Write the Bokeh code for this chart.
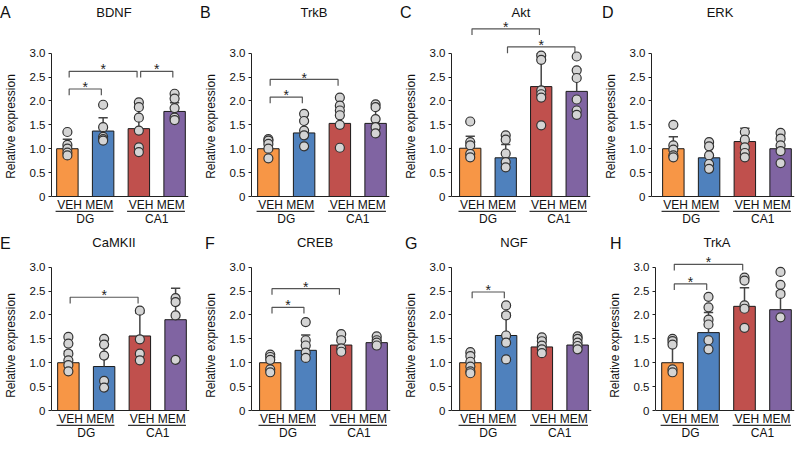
from bokeh.plotting import figure
from bokeh.layouts import column, row
from bokeh.models import FixedTicker, Span, Range1d, Div
from bokeh.embed import file_html
from bokeh.resources import INLINE
from bokeh.core.properties import value

FONT = "Liberation Sans"

# ---------------- data ----------------
conditions = ["VEH", "MEM", "VEH", "MEM"]
regions = ["DG", "CA1"]
bar_colors = ["#F79646", "#4F81BD", "#C0504D", "#8064A2"]
ytick_values = [0, 0.5, 1.0, 1.5, 2.0, 2.5, 3.0]
ytick_labels = ["0", "0.5", "1.0", "1.5", "2.0", "2.5", "3.0"]
panel_letters = ["A", "B", "C", "D", "E", "F", "G", "H"]
gene_names = ["BDNF", "TrkB", "Akt", "ERK", "CaMKII", "CREB", "NGF", "TrkA"]

bdnf_mean = [1.00, 1.37, 1.42, 1.78]
bdnf_sd = [0.20, 0.28, 0.45, 0.18]
bdnf_points = [[1.35, 1.08, 1.00, 0.92, 0.86], [1.92, 1.45, 1.25, 1.20, 1.17],
               [1.97, 1.87, 1.65, 1.38, 1.03, 0.93], [2.15, 2.05, 1.85, 1.65, 1.60]]
bdnf_sig = [(1, 2, 2.25), (1, 3, 2.62), (3, 4, 2.62)]

trkb_mean = [1.00, 1.33, 1.53, 1.53]
trkb_sd = [0.15, 0.28, 0.35, 0.32]
trkb_points = [[1.20, 1.17, 1.10, 1.00, 0.80], [1.73, 1.58, 1.38, 1.28, 1.05],
               [2.07, 1.90, 1.80, 1.70, 1.50, 1.02], [1.93, 1.87, 1.62, 1.45, 1.32]]
trkb_sig = [(1, 2, 2.08), (1, 3, 2.45)]

akt_mean = [1.01, 0.81, 2.30, 2.20]
akt_sd = [0.25, 0.28, 0.69, 0.47]
akt_points = [[1.57, 1.14, 1.07, 0.89, 0.82], [1.28, 1.19, 0.90, 0.72, 0.61],
              [2.95, 2.86, 2.22, 2.14, 2.07, 1.49], [2.93, 2.64, 2.48, 2.03, 1.80, 1.71]]
akt_sig = [(1, 3, 3.51), (2, 4, 3.13)]

erk_mean = [1.00, 0.81, 1.15, 1.00]
erk_sd = [0.25, 0.22, 0.28, 0.26]
erk_points = [[1.50, 1.07, 0.98, 0.86, 0.82], [1.14, 1.05, 0.86, 0.68, 0.58],
              [1.35, 1.19, 1.03, 0.91, 0.82], [1.33, 1.21, 1.07, 0.95, 0.70]]
erk_sig = []

camkii_mean = [1.00, 0.92, 1.56, 1.90]
camkii_sd = [0.24, 0.45, 0.48, 0.66]
camkii_points = [[1.54, 1.40, 1.19, 1.05, 0.95, 0.82], [1.50, 1.38, 1.15, 0.62, 0.48],
                 [2.09, 1.49, 1.19, 1.05], [2.35, 2.27, 1.99, 1.06]]
camkii_sig = [(1, 3, 2.37)]

creb_mean = [1.00, 1.26, 1.37, 1.42]
creb_sd = [0.17, 0.32, 0.15, 0.10]
creb_points = [[1.17, 1.12, 1.06, 0.86, 0.80], [1.85, 1.47, 1.36, 1.21, 1.10],
               [1.60, 1.47, 1.30, 1.23], [1.55, 1.47, 1.42, 1.36]]
creb_sig = [(1, 2, 2.16), (1, 3, 2.55)]

ngf_mean = [1.00, 1.57, 1.33, 1.37]
ngf_sd = [0.20, 0.47, 0.15, 0.15]
ngf_points = [[1.22, 1.14, 1.02, 0.92, 0.82, 0.78], [2.20, 1.99, 1.57, 1.42, 1.07],
              [1.53, 1.45, 1.36, 1.28, 1.20], [1.55, 1.50, 1.42, 1.35, 1.28]]
ngf_sig = [(1, 2, 2.48)]

trka_mean = [1.00, 1.63, 2.18, 2.11]
trka_sd = [0.42, 0.42, 0.39, 0.38]
trka_points = [[1.50, 1.45, 1.38, 0.86, 0.80], [2.38, 2.16, 1.90, 1.80, 1.47, 1.28],
               [2.78, 2.72, 2.20, 2.13, 1.73], [2.90, 2.63, 2.44, 1.95]]
trka_sig = [(1, 2, 2.65), (1, 3, 3.06)]

all_means = [bdnf_mean, trkb_mean, akt_mean, erk_mean, camkii_mean, creb_mean, ngf_mean, trka_mean]
all_sds = [bdnf_sd, trkb_sd, akt_sd, erk_sd, camkii_sd, creb_sd, ngf_sd, trka_sd]
all_points = [bdnf_points, trkb_points, akt_points, erk_points,
              camkii_points, creb_points, ngf_points, trka_points]
all_sig = [bdnf_sig, trkb_sig, akt_sig, erk_sig, camkii_sig, creb_sig, ngf_sig, trka_sig]

# ---------------- layout / style ----------------
PPU = 47.78            # pixels per y unit
XPU = 36.0             # pixels per x unit
FIG_W = 200
left_borders = [50, 50, 49, 50, 50, 49, 50, 55]
first_bar_off = [16, 17, 19, 22, 17, 19, 19, 17]   # px from axis to centre of first bar
title_cx = [114, 114, 121, 120, 114, 115, 114, 117]
letter_x = [0, 0, 0, 2, 0, 5, 5, 10]
x_pos = [1, 2, 3, 4]
group_x = [1.5, 3.5]

# (header height, figure height, zero line from figure top, title centre, letter centre)
ROW_GEOM = [(18, 216, 178, 12.5, 12.5), (16, 190, 160, 9.0, 10.0)]


def make_header(i):
    hh, _, _, t_c, l_c = ROW_GEOM[0 if i < 4 else 1]
    html = (
        f"<div style=\"position:relative;width:{FIG_W}px;height:{hh}px;"
        f"font-family:'{FONT}',Arial,sans-serif;color:#111111;\">"
        f"<div style=\"position:absolute;left:{letter_x[i]}px;top:{l_c - 9}px;width:20px;height:18px;"
        f"font-size:16px;line-height:18px;\">{panel_letters[i]}</div>"
        f"<div style=\"position:absolute;left:{title_cx[i] - 40}px;top:{t_c - 8}px;width:80px;height:16px;"
        f"text-align:center;font-size:13px;line-height:16px;\">{gene_names[i]}</div>"
        f"</div>"
    )
    return Div(text=html, width=FIG_W, height=hh, margin=(0, 0, 0, 0))


def make_panel(i):
    _, fh, zero, _, _ = ROW_GEOM[0 if i < 4 else 1]
    lb = left_borders[i]
    fw = first_bar_off[i] + 122
    x0 = 1 - first_bar_off[i] / XPU
    p = figure(width=FIG_W, height=fh,
               x_range=Range1d(x0, x0 + fw / XPU),
               y_range=Range1d(-(fh - zero) / PPU, zero / PPU),
               x_axis_location=None,
               min_border_left=lb, min_border_right=FIG_W - lb - fw,
               min_border_top=0, min_border_bottom=0,
               output_backend="svg", toolbar_location=None,
               background_fill_color=None, border_fill_color=None,
               outline_line_color=None, margin=(0, 0, 0, 0))
    p.grid.visible = False

    ax = p.yaxis[0]
    ax.bounds = (0, 3)
    ax.ticker = FixedTicker(ticks=ytick_values)
    ax.major_label_overrides = {v: l for v, l in zip(ytick_values, ytick_labels)}
    ax.axis_label = "Relative expression"
    ax.axis_label_text_font = FONT
    ax.axis_label_text_font_style = "normal"
    ax.axis_label_text_font_size = "12px"
    ax.axis_label_text_color = "#111111"
    ax.axis_label_standoff = 9
    ax.major_label_text_font = FONT
    ax.major_label_text_font_size = "11.5px"
    ax.major_label_text_color = "#111111"
    ax.major_label_standoff = 3
    ax.major_tick_in = 0
    ax.major_tick_out = 3
    ax.minor_tick_line_color = None
    ax.axis_line_color = "#222222"
    ax.major_tick_line_color = "#222222"

    p.add_layout(Span(location=0, dimension="width", line_color="#222222", line_width=1))

    means, sds, pts, sig = all_means[i], all_sds[i], all_points[i], all_sig[i]
    p.vbar(x=x_pos, top=means, bottom=0, width=0.6, fill_color=bar_colors,
           line_color="#1a1a1a", line_width=1)
    tops = [m + s for m, s in zip(means, sds)]
    p.segment(x0=x_pos, y0=means, x1=x_pos, y1=tops, line_color="#444444", line_width=1.5)
    p.segment(x0=[x - 0.13 for x in x_pos], y0=tops, x1=[x + 0.13 for x in x_pos], y1=tops,
              line_color="#444444", line_width=1.5)

    px, py = [], []
    for x, vals in zip(x_pos, pts):
        px += [x] * len(vals)
        py += vals
    p.scatter(px, py, size=9, fill_color="#d4d4d4", line_color="#333333", line_width=1.2)

    if sig:
        xs = [[a + 0.05, a + 0.05, b - 0.05, b - 0.05] for a, b, h in sig]
        ys = [[h - 0.13, h, h, h - 0.13] for a, b, h in sig]
        p.multi_line(xs, ys, line_color="#555555", line_width=1.2)
        p.text(x=[(a + b) / 2 for a, b, h in sig], y=[h + 0.04 for a, b, h in sig],
               text=["*"] * len(sig), text_font=value(FONT), text_font_size="14px",
               text_align="center", text_baseline="middle", text_color="#222222")

    pair_labels = [f"{conditions[0]} {conditions[1]}", f"{conditions[2]} {conditions[3]}"]
    p.text(x=group_x, y=[-0.18, -0.18], text=pair_labels, text_font=value(FONT),
           text_font_size="12px", text_align="center", text_baseline="middle",
           text_color="#111111")
    p.segment(x0=[g - 0.83 for g in group_x], y0=[-0.31, -0.31],
              x1=[g + 0.79 for g in group_x], y1=[-0.31, -0.31],
              line_color="#333333", line_width=1.2)
    p.text(x=group_x, y=[-0.48, -0.48], text=regions, text_font=value(FONT),
           text_font_size="12px", text_align="center", text_baseline="middle",
           text_color="#111111")
    return p


headers = [make_header(i) for i in range(8)]
panels = [make_panel(i) for i in range(8)]
layout = column(row(*headers[:4], margin=(0, 0, 0, 0)),
                row(*panels[:4], margin=(0, 0, 0, 0)),
                row(*headers[4:], margin=(0, 0, 0, 0)),
                row(*panels[4:], margin=(0, 0, 0, 0)),
                margin=(0, 0, 0, 0))

open("out.html", "w").write(file_html(layout, INLINE))
